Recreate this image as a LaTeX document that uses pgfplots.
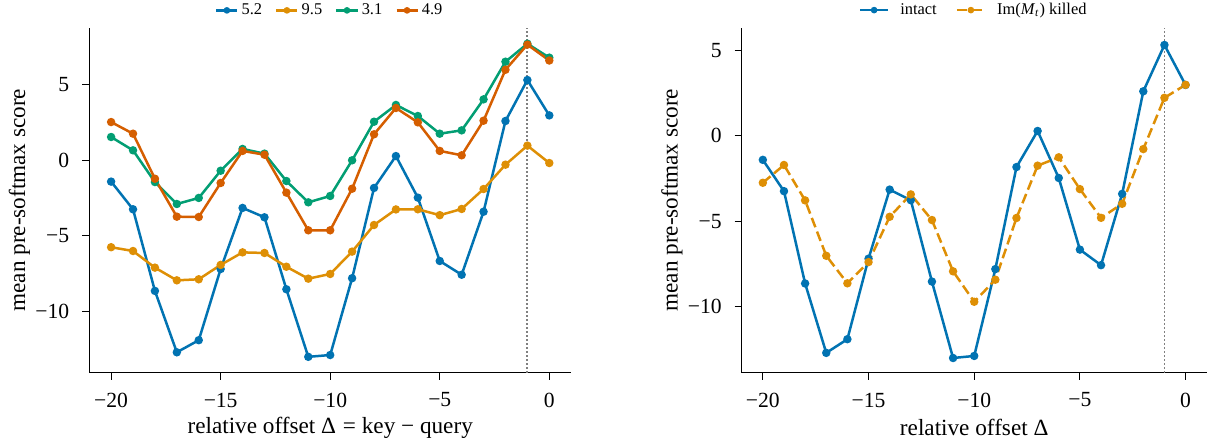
\documentclass[border=0pt]{standalone}
\usepackage{fontspec}
\setmainfont{Liberation Serif}
\usepackage{pgfplots}
\pgfplotsset{compat=1.18}

\definecolor{cbblue}{HTML}{0173B2}
\definecolor{cborange}{HTML}{DE8F05}
\definecolor{cbgreen}{HTML}{029E73}
\definecolor{cbred}{HTML}{D55E00}

\pgfplotsset{
  panel/.style={
    scale only axis,
    height=172.5pt,
    axis x line*=bottom, axis y line*=left,
    axis line style={line width=0.6pt},
    tick align=outside, major tick length=3.5pt,
    tick style={line width=0.6pt, black},
    xmin=-21, xmax=1,
    xtick={-20,-15,-10,-5,0},
    xticklabels={−20,−15,−10,−5,0},
    ticklabel style={font=\fontsize{10.8}{12}\selectfont},
    xticklabel style={yshift=-3pt},
    yticklabel style={xshift=-3pt},
    every axis x label/.style={at={(axis description cs:0.5,0)}, yshift=-27.6pt, anchor=center,
      font=\fontsize{11.6}{14}\selectfont},
    every axis y label/.style={at={(axis description cs:0,0.5)}, xshift=-34.9pt, rotate=90, anchor=center,
      font=\fontsize{11.6}{14}\selectfont},
    legend style={at={(0.5,1.0)}, anchor=south, draw=none, fill=none, yshift=1pt,
      font=\fontsize{8.2}{10}\selectfont,
      nodes={inner xsep=1.5pt}},
    legend cell align=left,
    every axis plot/.append style={line width=1.25pt, mark=*, mark size=1.45pt},
  },
  leftleg/.style={
    legend style={/tikz/every even column/.append style={column sep=5pt}},
    legend image code/.code={\draw[mark repeat=2,mark phase=2,#1,mark size=1pt] plot coordinates {(0cm,0cm) (0.185cm,0cm) (0.37cm,0cm)};},
  },
  rightleg/.style={
    legend style={/tikz/every even column/.append style={column sep=8pt},
      /tikz/every odd column/.append style={column sep=4pt}},
    legend image code/.code={\draw[mark repeat=2,mark phase=2,#1,mark size=1pt] plot coordinates {(0cm,0cm) (0.245cm,0cm) (0.49cm,0cm)};},
  },
  vline/.style={gray, dash pattern=on 0.9pt off 1.1pt, line width=0.9pt, mark=none, forget plot},
}

\begin{document}
\begin{tikzpicture}
\path[use as bounding box] (-44.6pt,-33.65pt) rectangle (559.4pt,186.35pt);

\begin{axis}[panel, leftleg, at={(0,0)}, anchor=south west, width=241pt,
  ymin=-14.05, ymax=8.77,
  ytick={-10,-5,0,5}, yticklabels={−10,−5,0,5},
  ylabel={mean pre-softmax score},
  xlabel={relative offset Δ\hspace{0.05em} = key − query},
  legend columns=4]
\addplot[vline] coordinates {(-1,-14.05) (-1,8.77)};
\addplot[cbblue, mark options={fill=cbblue}] coordinates {
(-20,-1.41) (-19,-3.24) (-18,-8.64) (-17,-12.7) (-16,-11.9) (-15,-7.19) (-14,-3.15)
(-13,-3.77) (-12,-8.53) (-11,-13.0) (-10,-12.88) (-9,-7.8) (-8,-1.83) (-7,0.28)
(-6,-2.47) (-5,-6.66) (-4,-7.57) (-3,-3.4) (-2,2.6) (-1,5.31) (0,2.97)};
\addlegendentry{5.2}
\addplot[cborange, mark options={fill=cborange}] coordinates {
(-20,-5.75) (-19,-6.0) (-18,-7.1) (-17,-7.94) (-16,-7.87) (-15,-6.92) (-14,-6.09)
(-13,-6.13) (-12,-7.04) (-11,-7.83) (-10,-7.52) (-9,-6.04) (-8,-4.28) (-7,-3.25)
(-6,-3.24) (-5,-3.63) (-4,-3.22) (-3,-1.9) (-2,-0.29) (-1,0.97) (0,-0.18)};
\addlegendentry{9.5}
\addplot[cbgreen, mark options={fill=cbgreen}] coordinates {
(-20,1.54) (-19,0.66) (-18,-1.44) (-17,-2.89) (-16,-2.49) (-15,-0.69) (-14,0.75)
(-13,0.44) (-12,-1.37) (-11,-2.78) (-10,-2.36) (-9,0.0) (-8,2.55) (-7,3.66)
(-6,2.93) (-5,1.76) (-4,1.98) (-3,4.03) (-2,6.52) (-1,7.71) (0,6.79)};
\addlegendentry{3.1}
\addplot[cbred, mark options={fill=cbred}] coordinates {
(-20,2.53) (-19,1.76) (-18,-1.22) (-17,-3.73) (-16,-3.75) (-15,-1.5) (-14,0.62)
(-13,0.37) (-12,-2.14) (-11,-4.63) (-10,-4.63) (-9,-1.88) (-8,1.72) (-7,3.46)
(-6,2.51) (-5,0.62) (-4,0.33) (-3,2.62) (-2,5.99) (-1,7.65) (0,6.6)};
\addlegendentry{4.9}
\end{axis}

\begin{axis}[panel, rightleg, at={(326.25pt,0)}, anchor=south west, width=232.5pt,
  ymin=-13.86, ymax=6.32,
  ytick={-10,-5,0,5}, yticklabels={−10,−5,0,5},
  ylabel={mean pre-softmax score},
  xlabel={relative offset Δ},
  legend columns=2]
\addplot[vline] coordinates {(-1,-13.86) (-1,6.32)};
\addplot[cbblue, mark options={fill=cbblue}] coordinates {
(-20,-1.41) (-19,-3.24) (-18,-8.64) (-17,-12.7) (-16,-11.9) (-15,-7.19) (-14,-3.15)
(-13,-3.77) (-12,-8.53) (-11,-13.0) (-10,-12.88) (-9,-7.8) (-8,-1.83) (-7,0.28)
(-6,-2.47) (-5,-6.66) (-4,-7.57) (-3,-3.4) (-2,2.6) (-1,5.31) (0,2.97)};
\addlegendentry{intact}
\addplot[cborange, dash pattern=on 5pt off 2.3pt, mark options={fill=cborange, solid}] coordinates {
(-20,-2.75) (-19,-1.71) (-18,-3.78) (-17,-7.02) (-16,-8.63) (-15,-7.39) (-14,-4.74)
(-13,-3.43) (-12,-4.93) (-11,-7.93) (-10,-9.71) (-9,-8.42) (-8,-4.81) (-7,-1.75)
(-6,-1.26) (-5,-3.12) (-4,-4.8) (-3,-3.98) (-2,-0.78) (-1,2.22) (0,2.98)};
\addlegendentry{Im(\textit{M}\textsubscript{\textit{t}}) killed}
\end{axis}
\end{tikzpicture}
\end{document}
